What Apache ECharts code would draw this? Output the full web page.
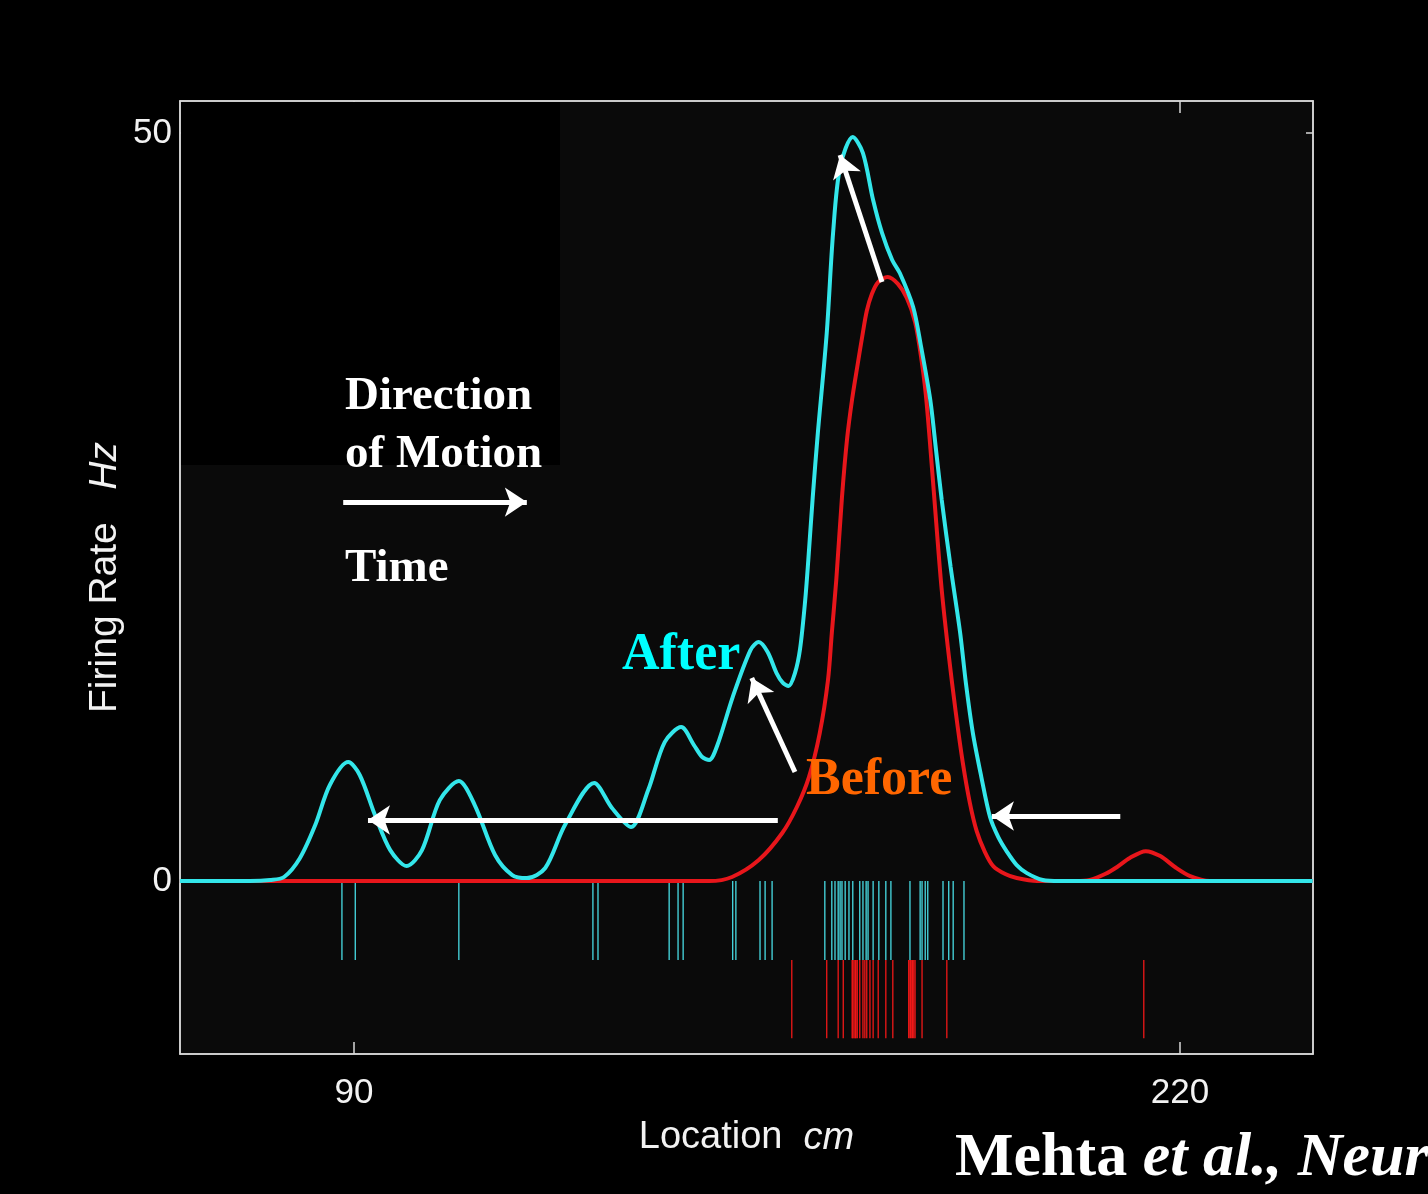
<!DOCTYPE html>
<html>
<head>
<meta charset="utf-8">
<script src="https://cdn.jsdelivr.net/npm/echarts@6/dist/echarts.min.js"></script>
<style>
html,body{margin:0;padding:0;background:#000;}
#chart{width:1428px;height:1194px;}
</style>
</head>
<body>
<div id="chart"></div>
<script>
// ---- data (cm, Hz) ----
const xTicks = [90, 220];
const yTicks = [0, 50];

const afterX = [62.6, 73.6, 76.8, 79.0, 81.5, 83.9, 86.2, 89.1, 90.9, 93.3, 95.7, 98.3, 100.7, 103.5, 106.5, 109.0, 112.2, 114.9, 117.2, 120.1, 123.2, 127.8, 130.6, 133.6, 136.3, 138.9, 141.5, 143.5, 144.8, 145.9, 147.2, 149.6, 152.4, 153.7, 155.1, 156.5, 157.5, 158.4, 159.4, 160.2, 161.0, 161.5, 162.2, 163.0, 164.4, 165.4, 166.5, 168.5, 170.1, 171.7, 173.1, 174.7, 175.9, 178.0, 179.2, 180.7, 181.6, 182.5, 183.9, 185.4, 186.3, 187.4, 188.7, 190.1, 191.4, 192.8, 194.3, 195.9, 198.4, 201.1, 240.9];
const afterY = [0, 0, 0.07, 0.27, 1.54, 3.74, 6.42, 7.95, 7.09, 4.41, 2.07, 1.0, 2.07, 5.41, 6.68, 5.08, 1.74, 0.4, 0.2, 0.87, 3.74, 6.55, 4.88, 3.61, 6.08, 9.29, 10.29, 9.09, 8.29, 8.09, 9.09, 12.3, 15.44, 15.98, 15.31, 13.9, 13.24, 13.04, 13.9, 15.51, 18.72, 21.46, 25.67, 29.95, 36.63, 43.32, 47.73, 49.73, 48.66, 45.52, 43.32, 41.51, 40.64, 38.37, 35.83, 32.15, 28.81, 25.47, 20.99, 16.58, 13.24, 9.89, 7.02, 4.28, 2.94, 1.94, 1.07, 0.53, 0.07, 0, 0];

const beforeX = [62.6, 144.5, 145.9, 149.5, 153.7, 157.4, 159.7, 161.6, 163.3, 164.6, 165.2, 165.9, 166.8, 167.6, 168.4, 169.2, 170.0, 170.7, 171.5, 172.5, 174.0, 175.6, 177.0, 178.3, 179.2, 180.0, 180.8, 181.6, 182.5, 183.6, 184.7, 185.8, 186.9, 188.0, 189.3, 190.6, 192.5, 194.3, 197.5, 203.5, 205.8, 208.2, 210.1, 212.1, 214.6, 216.9, 219.2, 221.6, 224.7, 240.9];
const beforeY = [0, 0, 0, 0.27, 1.4, 3.21, 4.95, 6.95, 9.89, 13.44, 16.58, 20.12, 25.67, 29.55, 32.22, 34.36, 36.43, 38.1, 39.24, 40.04, 40.37, 39.91, 38.97, 37.37, 35.16, 32.49, 28.48, 24.13, 19.45, 15.11, 11.3, 7.95, 5.28, 3.34, 1.94, 1.0, 0.47, 0.2, 0, 0, 0.07, 0.47, 0.94, 1.54, 2.0, 1.67, 0.94, 0.33, 0, 0];

// spike times (cm)
const afterSpikes = [88.1, 90.2, 106.5, 127.6, 128.4, 139.6, 141.0, 141.8, 149.6, 150.1, 153.9, 154.7, 155.8, 164.1, 165.2, 165.7, 166.2, 166.5, 166.8, 167.3, 167.9, 168.5, 169.6, 170.1, 170.6, 170.9, 171.7, 172.6, 173.7, 174.5, 177.5, 179.1, 179.4, 179.9, 180.3, 182.7, 183.6, 184.3, 186.0];
const beforeSpikes = [158.9, 164.4, 166.2, 167.0, 168.4, 168.5, 168.7, 168.9, 169.0, 169.2, 169.6, 170.1, 170.4, 170.7, 171.2, 171.7, 172.5, 173.7, 174.8, 177.3, 177.5, 177.6, 177.8, 177.9, 178.1, 178.3, 179.4, 183.3, 214.3];

// annotation arrows [x0, y0, x1(tip), y1(tip)]
const arrows = [
  [156.7, 4.08, 92.2, 4.08],
  [159.4, 7.29, 152.6, 13.57],
  [173.1, 40.04, 166.5, 48.53],
  [210.6, 4.35, 190.4, 4.35],
  [88.3, 25.33, 117.2, 25.33]
];

const X_MIN = 62.615, X_MAX = 240.93, Y_MIN = -11.56, Y_MAX = 52.14;

const chart = echarts.init(document.getElementById('chart'), null, {renderer: 'canvas'});

function zip(a, b) { return a.map((v, i) => [v, b[i]]); }

function rasterSeries(name, xs, top, bottom, color, width) {
  return {
    name: name,
    type: 'custom',
    silent: true,
    z: 1,
    data: xs.map(x => [x, top, bottom]),
    encode: {x: 0, y: [1, 2]},
    renderItem: function (params, api) {
      const p0 = api.coord([api.value(0), api.value(1)]);
      const p1 = api.coord([api.value(0), api.value(2)]);
      return {
        type: 'line',
        shape: {x1: p0[0], y1: p0[1], x2: p1[0], y2: p1[1]},
        style: {stroke: color, lineWidth: width}
      };
    }
  };
}

const axisColor = '#d8d8d8';
const sans = 'Liberation Sans, Arial, sans-serif';
const labelFont = {color: '#f2f2f2', fontFamily: sans, fontSize: 35};
const serif = '"Liberation Serif", "Times New Roman", serif';

chart.setOption({
  backgroundColor: '#000',
  animation: false,
  grid: {left: 180, top: 101, right: 115, bottom: 140, show: true, backgroundColor: '#0a0a0a', borderColor: axisColor, borderWidth: 1.5, z: 0},
  xAxis: [
    {
      type: 'value', min: X_MIN, max: X_MAX, position: 'bottom',
      axisLine: {show: true, onZero: false, lineStyle: {color: axisColor, width: 1.5}},
      axisTick: {show: true, inside: true, length: 12, customValues: xTicks, lineStyle: {color: axisColor, width: 1.5}},
      axisLabel: {show: true, customValues: xTicks, margin: 22, ...labelFont},
      splitLine: {show: false},
      name: '{n|Location}  {i|cm}',
      nameLocation: 'middle',
      nameGap: 65,
      nameTextStyle: {
        color: '#f2f2f2', fontFamily: sans, fontSize: 38,
        rich: {n: {fontSize: 38, color: '#f2f2f2', fontFamily: sans}, i: {fontSize: 38, fontStyle: 'italic', color: '#f2f2f2', fontFamily: sans}}
      }
    },
    {
      type: 'value', min: X_MIN, max: X_MAX, position: 'top',
      axisLine: {show: true, onZero: false, lineStyle: {color: axisColor, width: 1.5}},
      axisTick: {show: true, inside: true, length: 12, customValues: xTicks, lineStyle: {color: axisColor, width: 1.5}},
      axisLabel: {show: false},
      splitLine: {show: false}
    }
  ],
  yAxis: [
    {
      type: 'value', min: Y_MIN, max: Y_MAX, position: 'left',
      axisLine: {show: true, onZero: false, lineStyle: {color: axisColor, width: 1.5}},
      axisTick: {show: true, inside: true, length: 7, customValues: yTicks, lineStyle: {color: axisColor, width: 1.5}},
      axisLabel: {show: true, customValues: yTicks, margin: 8, ...labelFont},
      splitLine: {show: false},
      name: '{n|Firing Rate}   {i|Hz}',
      nameLocation: 'middle',
      nameGap: 55,
      nameMoveOverlap: false,
      nameTextStyle: {
        color: '#f2f2f2', fontFamily: sans, fontSize: 39,
        rich: {n: {fontSize: 39, color: '#f2f2f2', fontFamily: sans}, i: {fontSize: 39, fontStyle: 'italic', color: '#f2f2f2', fontFamily: sans}}
      }
    },
    {
      type: 'value', min: Y_MIN, max: Y_MAX, position: 'right',
      axisLine: {show: true, onZero: false, lineStyle: {color: axisColor, width: 1.5}},
      axisTick: {show: true, inside: true, length: 7, customValues: yTicks, lineStyle: {color: axisColor, width: 1.5}},
      axisLabel: {show: false},
      splitLine: {show: false}
    }
  ],
  graphic: [
    {type: 'rect', z: 1, silent: true, shape: {x: 181, y: 102, width: 379, height: 363}, style: {fill: '#000'}},
    {type: 'text', z: 20, left: 345, top: 373, style: {text: 'Direction', font: 'bold 47px ' + serif, fill: '#fff'}},
    {type: 'text', z: 20, left: 345, top: 431, style: {text: 'of Motion', font: 'bold 47px ' + serif, fill: '#fff'}},
    {type: 'text', z: 20, left: 345, top: 545, style: {text: 'Time', font: 'bold 47px ' + serif, fill: '#fff'}},
    {type: 'text', z: 20, left: 622, top: 630, style: {text: 'After', font: 'bold 52px ' + serif, fill: '#00ffff'}},
    {type: 'text', z: 20, left: 806, top: 755, style: {text: 'Before', font: 'bold 52px ' + serif, fill: '#ff6600'}},
    {type: 'text', z: 20, left: 955, top: 1128, style: {
      text: '{b|Mehta }{bi|et al., Neuron}',
      rich: {
        b: {font: 'bold 62px ' + serif, fill: '#fff'},
        bi: {font: 'italic bold 62px ' + serif, fill: '#fff'}
      }
    }}
  ],
  series: [
    rasterSeries('after spikes', afterSpikes, 0, -5.28, '#48dce4', 1.3),
    rasterSeries('before spikes', beforeSpikes, -5.28, -10.5, '#f01818', 1.3),
    {
      name: 'Before', type: 'line', z: 3, data: zip(beforeX, beforeY),
      showSymbol: false, smooth: 0.3, lineStyle: {color: '#e8161b', width: 4}, silent: true
    },
    {
      name: 'After', type: 'line', z: 4, data: zip(afterX, afterY),
      showSymbol: false, smooth: 0.3, lineStyle: {color: '#33e6ea', width: 4}, silent: true
    },
    {
      name: 'arrows', type: 'line', z: 10, data: [], silent: true,
      markLine: {
        silent: true, animation: false,
        symbol: ['none', 'arrow'], symbolSize: 22,
        label: {show: false},
        lineStyle: {color: '#ffffff', width: 5, type: 'solid'},
        itemStyle: {color: '#ffffff'},
        emphasis: {disabled: true},
        data: arrows.map(a => [{coord: [a[0], a[1]]}, {coord: [a[2], a[3]]}])
      }
    }
  ]
});
</script>
</body>
</html>
